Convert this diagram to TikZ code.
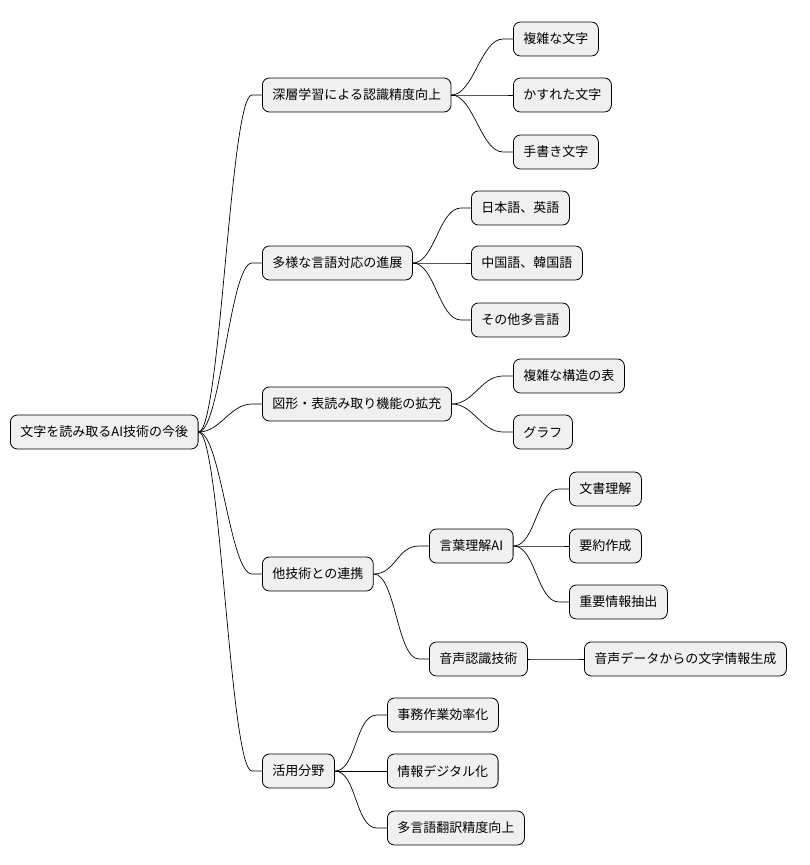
\documentclass[tikz,border=0pt]{standalone}
\usepackage{fontspec}
\setmainfont{Noto Sans CJK JP}
\usepackage{tikz}
\usetikzlibrary{calc}

\begin{document}
\begin{tikzpicture}[x=1pt,y=-1pt]
  \tikzset{TopicStyle/.style = {shape          = rectangle,
                                rounded corners = 7pt,
                                draw, black, fill=gray!12,
                                line width     = 0.8pt,
                                text           = black,
                                inner xsep     = 10pt,
                                minimum height = 34pt,
                                font           = \fontsize{13}{16}\selectfont}}
  \tikzset{BranchStyle/.style = {line width=0.7pt, black}}
  \newcommand\branch[2]{\draw[BranchStyle] (#1.east) .. controls +(22,0) and +(-22,0) .. ([xshift=-10pt]#2.west) -- (#2.west);}
  \useasboundingbox (0,0) rectangle (810,865);
  \begin{scope}[every node/.style={TopicStyle}]
	%%% RACINE %%%
	\node[anchor=west] (root) at (10,432) {文字を読み取るAI技術の今後};
	%%% NIVEAU 1 %%%
	\node[anchor=west] (deep) at (262,95) {深層学習による認識精度向上};
	\node[anchor=west] (lang) at (262,263) {多様な言語対応の進展};
	\node[anchor=west] (fig) at (262,404) {図形・表読み取り機能の拡充};
	\node[anchor=west] (tech) at (262,574) {他技術との連携};
	\node[anchor=west] (use) at (262,771) {活用分野};
	%%% NIVEAU 2 %%%
	\node[anchor=west] (complex) at (513,39) {複雑な文字};
	\node[anchor=west] (faded) at (513,95) {かすれた文字};
	\node[anchor=west] (hand) at (513,152) {手書き文字};
	\node[anchor=west] (jaen) at (471,208) {日本語、英語};
	\node[anchor=west] (zhko) at (471,263) {中国語、韓国語};
	\node[anchor=west] (other) at (471,320) {その他多言語};
	\node[anchor=west] (table) at (513,376) {複雑な構造の表};
	\node[anchor=west] (graph) at (513,432) {グラフ};
	\node[anchor=west] (nlp) at (429,546) {言葉理解AI};
	\node[anchor=west] (speech) at (429,659) {音声認識技術};
	\node[anchor=west] (office) at (387,715) {事務作業効率化};
	\node[anchor=west] (digit) at (387,771) {情報デジタル化};
	\node[anchor=west] (trans) at (387,828) {多言語翻訳精度向上};
	%%% NIVEAU 3 %%%
	\node[anchor=west] (doc) at (569,489) {文書理解};
	\node[anchor=west] (summ) at (569,546) {要約作成};
	\node[anchor=west] (extr) at (569,602) {重要情報抽出};
	\node[anchor=west] (gen) at (584,659) {音声データからの文字情報生成};
  \end{scope}
  %%% LIENS %%%
  \foreach \p/\c in {root/deep, root/lang, root/fig, root/tech, root/use,
                     deep/complex, deep/faded, deep/hand,
                     lang/jaen, lang/zhko, lang/other,
                     fig/table, fig/graph,
                     tech/nlp, tech/speech,
                     nlp/doc, nlp/summ, nlp/extr,
                     speech/gen,
                     use/office, use/digit, use/trans}
    {\branch{\p}{\c}}
\end{tikzpicture}
\end{document}
